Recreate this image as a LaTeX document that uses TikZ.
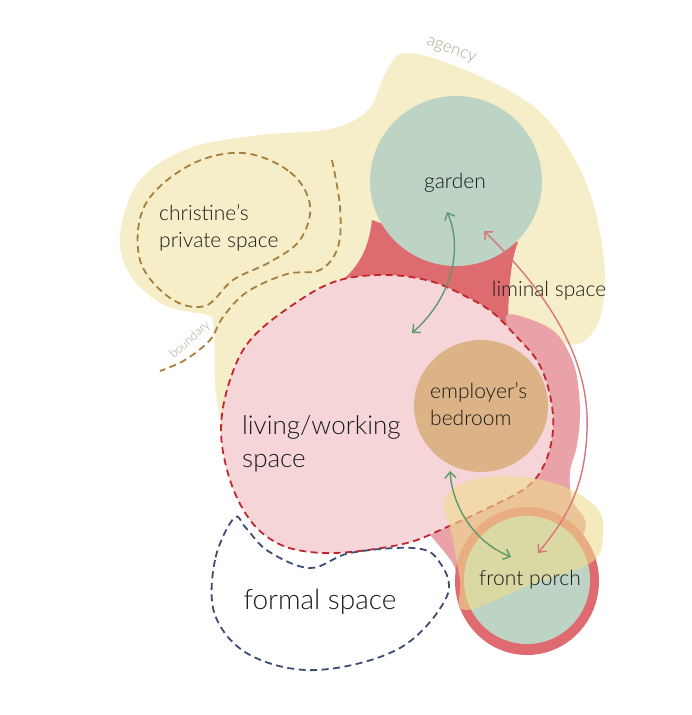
\documentclass[tikz,border=0pt]{standalone}
\usepackage{fontspec}
\setmainfont{Lato}[UprightFont=* Light]
\usetikzlibrary{arrows.meta}
\definecolor{agencyY}{HTML}{F6EDC9}
\definecolor{gardenG}{HTML}{BDD3C4}
\definecolor{darkRed}{HTML}{DD6B70}
\definecolor{stripPink}{HTML}{E8A2A8}
\definecolor{livingPink}{HTML}{F6D5D9}
\definecolor{livingDash}{HTML}{C1272D}
\definecolor{bedTan}{HTML}{DCB387}
\definecolor{ringRed}{HTML}{DF6B70}
\definecolor{overY}{HTML}{EEDC8E}
\definecolor{privDash}{HTML}{A8803E}
\definecolor{formalDash}{HTML}{3D4C72}
\definecolor{arrGreen}{HTML}{5E9A6A}
\definecolor{arrRed}{HTML}{D9767A}
\definecolor{softText}{HTML}{ABA58A}
\definecolor{ink}{HTML}{1A1A1A}
\begin{document}
\begin{tikzpicture}[x=1pt,y=-1pt,
  lbl/.style={text=ink,font=\fontsize{21}{27}\selectfont,inner sep=0pt},
  biglbl/.style={text=ink,font=\fontsize{26}{33}\selectfont,inner sep=0pt},
  smalllbl/.style={text=softText,inner sep=0pt},
  dashline/.style={line width=1.8pt,dash pattern=on 7pt off 4.5pt},
  twoway/.style={line width=1.4pt,{Straight Barb[length=6pt,width=11pt]}-{Straight Barb[length=6pt,width=11pt]}}]
\useasboundingbox (0,0) rectangle (691,715);
% agency blob
\fill[agencyY] plot[smooth cycle,tension=0.6] coordinates {(407,53) (470,72) (540,112) (585,180) (604,260) (600,318) (578,344) (545,336) (512,318) (460,300) (330,400) (240,455) (217,400) (214,328) (207,315) (190,312) (160,303) (130,275) (120,235) (140,180) (190,148) (260,135) (330,129) (368,110) (386,72)};
% dark red liminal part
\fill[darkRed] (400,230) -- (372,220) .. controls (368,255) and (355,272) .. (330,290) -- (420,310) -- (508,332) .. controls (508,295) and (510,262) .. (518,242) -- cycle;
% light strip
\fill[stripPink] plot[smooth cycle,tension=0.55] coordinates {(506,316) (532,320) (558,335) (575,368) (580,410) (577,445) (570,472) (572,500) (585,530) (540,590) (470,592) (452,562) (432,537) (422,525) (480,480) (530,420) (515,350)};
% living / working space
\fill[livingPink] plot[smooth cycle,tension=0.6] coordinates {(300,300) (340,280) (387,275) (430,281) (465,296) (492,312) (515,335) (538,362) (550,395) (553,430) (545,463) (527,487) (490,507) (447,527) (407,543) (350,552) (310,552) (277,543) (250,520) (230,480) (221,430) (230,380) (252,338)};
% garden
\fill[gardenG] (456,181) ellipse [x radius=86,y radius=85];
% bedroom
\fill[bedTan] (481,406) ellipse [x radius=67,y radius=66];
% front porch
\fill[ringRed] (527,581) ellipse [x radius=72,y radius=74];
\fill[gardenG] (527,580) ellipse [x radius=63,y radius=64];
% living dashed border
\draw[livingDash,dashline] plot[smooth cycle,tension=0.6] coordinates {(300,300) (340,280) (387,275) (430,281) (465,296) (492,312) (515,335) (538,362) (550,395) (553,430) (545,463) (527,487) (490,507) (447,527) (407,543) (350,552) (310,552) (277,543) (250,520) (230,480) (221,430) (230,380) (252,338)};
% translucent yellow over porch
\fill[overY,opacity=0.6] plot[smooth cycle,tension=0.6] coordinates {(444,502) (466,482) (510,476) (560,485) (596,507) (603,532) (592,562) (530,585) (465,610) (460,580) (452,535)};
% christine's private space dashed
\draw[privDash,dashline] plot[smooth cycle,tension=0.6] coordinates {(243,153) (290,172) (310,205) (300,240) (270,262) (233,280) (205,306) (170,298) (140,260) (145,205) (190,165)};
% boundary line
\draw[privDash,dashline] plot[smooth,tension=0.6] coordinates {(332,160) (340,207) (338,247) (320,270) (287,274) (247,292) (223,317) (210,340) (185,360) (160,371)};
% formal space
\draw[formalDash,dashline] plot[smooth cycle,tension=0.6] coordinates {(234,518) (215,560) (215,615) (250,655) (317,670) (400,648) (447,596) (438,560) (413,548) (350,553) (310,568) (268,551) (246,528)};
% arrows
\coordinate (gTop) at (447,212);
\coordinate (lTop) at (412,333);
\coordinate (bBot) at (450,471);
\coordinate (pLeft) at (511,557);
\coordinate (gRight) at (484,231);
\coordinate (pTop) at (538,553);
\draw[arrGreen,twoway] (gTop) .. controls (462,245) and (455,295) .. (lTop);
\draw[arrGreen,twoway] (bBot) .. controls (452,502) and (470,540) .. (pLeft);
\draw[arrRed,twoway] (gRight) .. controls (550,295) and (590,360) .. (587,430) .. controls (585,490) and (565,520) .. (pTop);
% labels
\node[lbl] (garden) at (455,183) {garden};
\node[lbl,anchor=west,align=left] (christine) at (159,228) {christine’s\\private space};
\node[lbl] (liminal) at (549,291) {liminal space};
\node[biglbl,anchor=west,align=left] (living) at (242,444) {living/working\\space};
\node[lbl,anchor=west,align=left] (bedroom) at (430,404) {employer’s\\bedroom};
\node[biglbl,font=\fontsize{28}{33}\selectfont] (formal) at (320,602) {formal space};
\node[lbl] (porch) at (530,580) {front porch};
\node[smalllbl,font=\fontsize{17}{19}\selectfont,rotate=-20] (agency) at (451,51) {agency};
\node[smalllbl,font=\fontsize{12}{14}\selectfont,rotate=42] (boundary) at (190,340) {boundary};
\end{tikzpicture}
\end{document}
